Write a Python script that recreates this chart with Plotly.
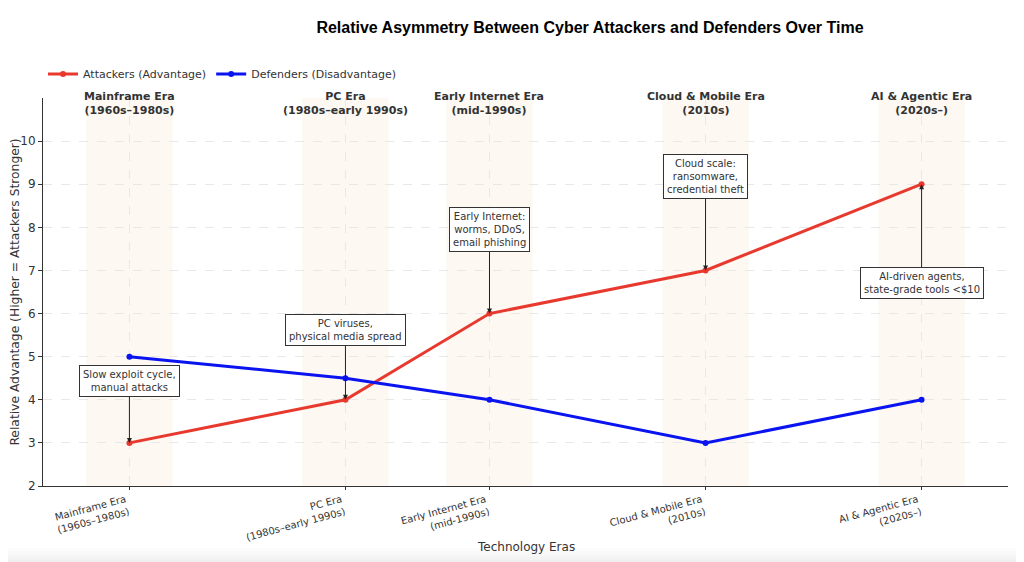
import plotly.graph_objects as go

eras = ["Mainframe Era", "PC Era", "Early Internet Era", "Cloud & Mobile Era", "AI & Agentic Era"]
periods = ["(1960s–1980s)", "(1980s–early 1990s)", "(mid-1990s)", "(2010s)", "(2020s–)"]
years = [1970, 1985, 1995, 2010, 2025]
attackers = [3, 4, 6, 7, 9]
defenders = [5, 4.5, 4, 3, 4]
notes = ["Slow exploit cycle,<br>manual attacks",
         "PC viruses,<br>physical media spread",
         "Early Internet:<br>worms, DDoS,<br>email phishing",
         "Cloud scale:<br>ransomware,<br>credential theft",
         "AI-driven agents,<br>state-grade tools <$10"]
note_y = [4.43, 5.61, 7.94, 9.17, 6.72]
band_half = 3

RED = "#e8392e"
BLUE = "#0a14f0"
TXT = "#333333"
FONT = "DejaVu Sans"

W, H = 1016, 554
ML, MR, MT, MB = 35, 16, 90, 76
PH = H - MT - MB
PW = W - ML - MR

fig = go.Figure()
fig.add_trace(go.Scatter(x=years, y=attackers, mode="lines+markers",
                         name="Attackers (Advantage)",
                         line=dict(color=RED, width=3), marker=dict(size=6, color=RED)))
fig.add_trace(go.Scatter(x=years, y=defenders, mode="lines+markers",
                         name="Defenders (Disadvantage)",
                         line=dict(color=BLUE, width=3), marker=dict(size=6, color=BLUE)))

for yr in years:
    fig.add_shape(type="rect", xref="x", yref="y", x0=yr - band_half, x1=yr + band_half,
                  y0=2, y1=11, fillcolor="rgba(240,200,140,0.12)", line_width=0, layer="below")

# faint grey fade along the bottom edge
for i in range(6):
    y0 = -(MB - 62 + i * 3) / PH
    fig.add_shape(type="rect", xref="paper", yref="paper", x0=-ML / PW - 0.01, x1=1 + MR / PW + 0.01,
                  y0=-(MB + 10) / PH, y1=-(62 + i * 3) / PH,
                  fillcolor="rgba(200,200,200,0.06)", line_width=0, layer="below")

for e, p, yr in zip(eras, periods, years):
    fig.add_annotation(x=yr, y=10.88, xref="x", yref="y", text=f"<b>{e}<br>{p}</b>",
                       showarrow=False, font=dict(family=FONT, size=11, color=TXT))

for n, yr, a, ny in zip(notes, years, attackers, note_y):
    fig.add_annotation(x=yr, y=a, xref="x", yref="y", ax=yr, ay=ny, axref="x", ayref="y",
                       text=n, showarrow=True, arrowhead=2, arrowsize=1, arrowwidth=1,
                       arrowcolor="#222", bgcolor="white", bordercolor=TXT, borderwidth=1,
                       borderpad=3, font=dict(family=FONT, size=10, color=TXT))

fig.add_annotation(x=0.5, y=-61 / PH, xref="paper", yref="paper", text="Technology Eras",
                   showarrow=False, yanchor="middle",
                   font=dict(family=FONT, size=12, color=TXT))

ticktext = [f"{e}<br>{p}" for e, p in zip(eras, periods)]

fig.update_layout(
    width=W, height=H,
    paper_bgcolor="white", plot_bgcolor="white",
    margin=dict(l=ML, r=MR, t=MT, b=MB),
    font=dict(family=FONT, color=TXT),
    title=dict(text="<b>Relative Asymmetry Between Cyber Attackers and Defenders Over Time</b>",
               x=582 / W, xref="container", xanchor="center", y=1 - 19 / H,
               yref="container", yanchor="middle",
               font=dict(family="Liberation Sans", size=16, color="black")),
    legend=dict(orientation="h", x=0.0, xanchor="left", y=1 + 24 / PH, yanchor="middle",
                font=dict(family=FONT, size=11, color=TXT), bgcolor="rgba(0,0,0,0)"),
    xaxis=dict(range=[1964, 2031], tickvals=years, ticktext=ticktext, tickangle=-15,
               automargin=False, ticklabelshift=-4,
               tickfont=dict(size=10, color=TXT), showline=True, linecolor=TXT, linewidth=1,
               ticks="outside", ticklen=3, tickcolor=TXT, showgrid=True, gridcolor="#e8e8e8",
               gridwidth=0.8, griddash="dash", zeroline=False),
    yaxis=dict(range=[2, 11], tickvals=list(range(2, 11)), tickfont=dict(size=12, color=TXT),
               automargin=False,
               showline=True, linecolor=TXT, linewidth=1, ticks="outside", ticklen=4,
               tickcolor=TXT, showgrid=True, gridcolor="#e8e8e8", gridwidth=0.8, griddash="dash",
               zeroline=False,
               title=dict(text="Relative Advantage (Higher = Attackers Stronger)",
                          font=dict(size=12.3, color=TXT), standoff=6)),
)

fig.write_html("out.html")
